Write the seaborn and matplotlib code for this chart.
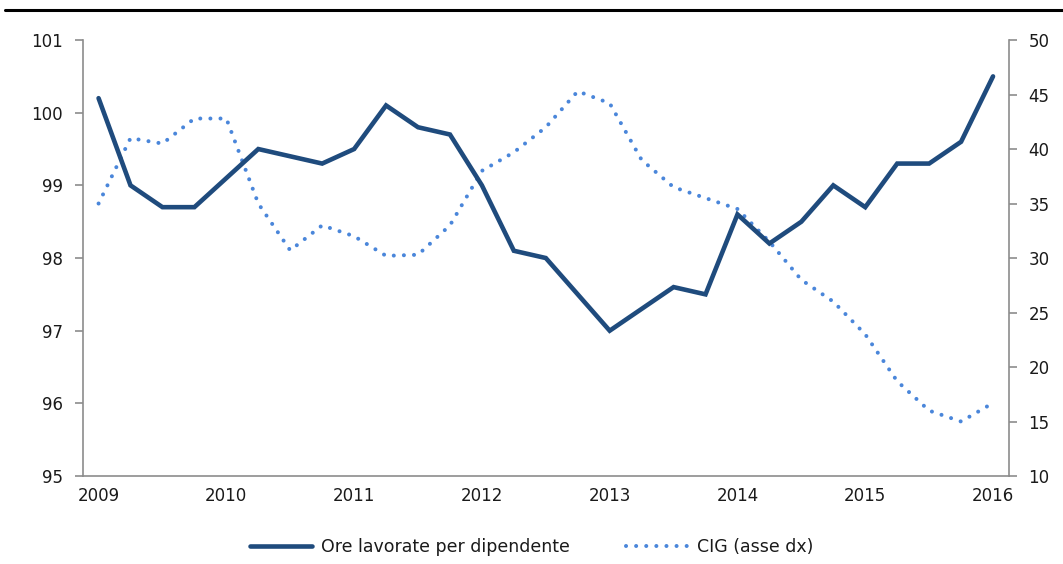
import matplotlib
matplotlib.use("Agg")
import matplotlib.pyplot as plt
from matplotlib.lines import Line2D
from matplotlib.ticker import FixedLocator, NullFormatter
import seaborn as sns
import pandas as pd

# quarterly data, 2009Q1 - 2016Q1
years = ["2009", "2010", "2011", "2012", "2013", "2014", "2015", "2016"]
ore_lavorate = [100.2, 99.0, 98.7, 98.7,
                99.1, 99.5, 99.4, 99.3,
                99.5, 100.1, 99.8, 99.7,
                99.0, 98.1, 98.0, 97.5,
                97.0, 97.3, 97.6, 97.5,
                98.6, 98.2, 98.5, 99.0,
                98.7, 99.3, 99.3, 99.6,
                100.5]
cig = [35.0, 41.0, 40.5, 42.8,
       42.8, 35.0, 30.7, 33.0,
       32.0, 30.2, 30.3, 33.0,
       38.0, 39.7, 42.0, 45.3,
       44.2, 39.0, 36.5, 35.5,
       34.5, 31.5, 28.0, 26.0,
       23.0, 18.7, 16.0, 15.0,
       16.7]

NAVY = "#1F4B7D"
LIGHT = "#4A86DA"
GREY = "#8C8C8C"
TXT = "#1A1A1A"

df = pd.DataFrame({"q": range(len(ore_lavorate)), "ore": ore_lavorate, "cig": cig})

sns.set_style("white")
plt.rcParams["font.family"] = ["DejaVu Sans"]

fig = plt.figure(figsize=(10.63, 5.64), dpi=100)
ax = fig.add_axes([0.0777, 0.156, 0.8715, 0.773])
ax2 = ax.twinx()

sns.lineplot(data=df, x="q", y="ore", ax=ax, color=NAVY, linewidth=3.3,
             solid_joinstyle="miter", zorder=3)
sns.lineplot(data=df, x="q", y="cig", ax=ax2, color=LIGHT, linewidth=2.9,
             linestyle=(0, (0.01, 2.5)), dash_capstyle="round", zorder=2)
ax.set_zorder(ax2.get_zorder() + 1)
ax.patch.set_visible(False)

n = len(ore_lavorate)
ax.set_xlim(-0.5, n - 0.5)
ax.set_ylim(95, 101)
ax.set_yticks(range(95, 102))
ax2.set_ylim(10, 50)
ax2.set_yticks(range(10, 51, 5))

ax.set_xticks(range(0, n, 4))
ax.set_xticklabels(years)
ax.xaxis.set_minor_locator(FixedLocator([i - 0.5 for i in range(n + 1)]))
ax.xaxis.set_minor_formatter(NullFormatter())
ax.tick_params(axis="x", which="major", length=0, pad=8, labelsize=12, colors=TXT)
ax.tick_params(axis="x", which="minor", length=6, width=1.2, color=GREY, direction="out")
ax.tick_params(axis="y", length=6, width=1.2, color=GREY, direction="out",
               labelsize=12, labelcolor=TXT, pad=8, left=True)
ax2.tick_params(axis="y", length=6, width=1.2, color=GREY, direction="out",
                labelsize=12, labelcolor=TXT, pad=8, right=True)

for a in (ax, ax2):
    a.set_xlabel("")
    a.set_ylabel("")
    a.spines["top"].set_visible(False)
    for s in ("left", "right", "bottom"):
        a.spines[s].set_color(GREY)
        a.spines[s].set_linewidth(1.2)
ax.spines["right"].set_visible(False)
ax2.spines["left"].set_visible(False)
ax2.spines["bottom"].set_visible(False)

# top separator line
fig.add_artist(Line2D([0.005, 1.0], [0.982, 0.982], color="black", linewidth=2.2))

handles = [Line2D([], [], color=NAVY, linewidth=3.3),
           Line2D([], [], color=LIGHT, linewidth=2.9, linestyle=(0, (0.01, 2.5)),
                  dash_capstyle="round")]
fig.legend(handles, ["Ore lavorate per dipendente", "CIG (asse dx)"],
           loc="center", bbox_to_anchor=(0.5, 0.03), ncol=2, frameon=False,
           fontsize=12.5, handlelength=3.6, columnspacing=3.2, handletextpad=0.5,
           labelcolor=TXT, borderpad=0.2)

fig.savefig("out.png", dpi=100)
